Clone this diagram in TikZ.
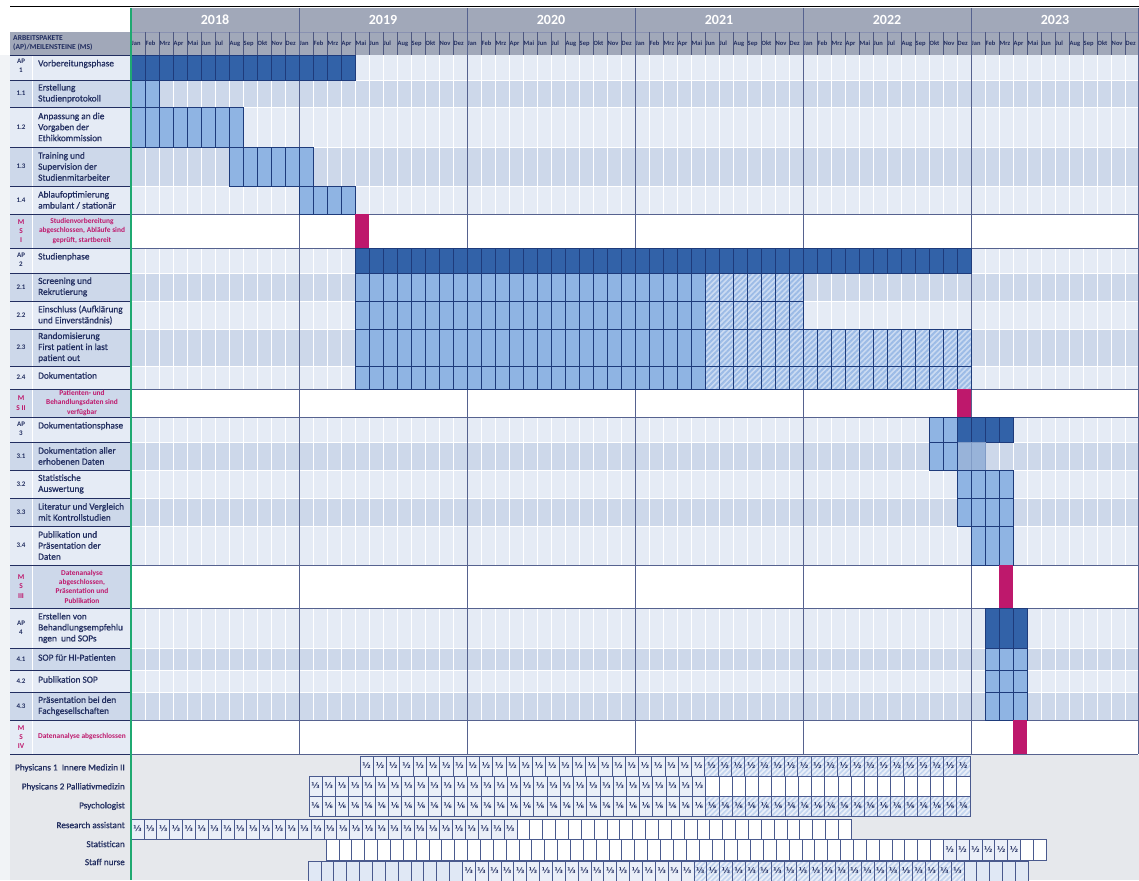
\documentclass[tikz,border=0pt]{standalone}
\usepackage{fontspec}
\setmainfont{Carlito}
\newfontfamily\semib[FakeBold=0.7]{Carlito}
\newfontfamily\fracfont{DejaVu Sans}
\usetikzlibrary{patterns.meta}
\definecolor{navy}{HTML}{222E60}
\definecolor{hdrgrey}{HTML}{A1A8B9}
\definecolor{rowL}{HTML}{E5EBF5}
\definecolor{rowD}{HTML}{CDD8EA}
\definecolor{apbar}{HTML}{3262A8}
\definecolor{subbar}{HTML}{8FB4E3}
\definecolor{hatchpale}{HTML}{CBDBF2}
\definecolor{hatchblue}{HTML}{9CBBE6}
\definecolor{barline}{HTML}{1E3B7B}
\definecolor{msmag}{HTML}{BE186C}
\definecolor{greenline}{HTML}{1FA971}
\definecolor{resbg}{HTML}{E6E8EC}
\definecolor{cellline}{HTML}{4A5A8E}
\definecolor{celltext}{HTML}{EAEFF8}
\definecolor{cellempty}{HTML}{E0E8F5}
\definecolor{yearline}{HTML}{56628F}
\definecolor{greybar}{HTML}{98B3D9}
\definecolor{resstripe}{HTML}{C2D4EF}
\definecolor{leftstrip}{HTML}{F1F3F6}
\tikzset{
  apcell/.style={fill=apbar, draw=barline, line width=0.7pt},
  subcell/.style={fill=subbar, draw=barline, line width=0.7pt},
  greycell/.style={fill=greybar, draw=greybar!80!barline, line width=0.4pt},
  hatchcell/.style={preaction={fill=hatchpale}, pattern={Lines[angle=45,distance=3.8pt,line width=1.9pt]}, pattern color=hatchblue, draw=barline, line width=0.7pt},
  mscell/.style={fill=msmag},
  numlbl/.style={inner sep=0pt, align=center, text=navy, font=\fontsize{7}{9}\selectfont\bfseries},
  mslbl/.style={inner sep=0pt, align=center, text=msmag, font=\fontsize{7.4}{9.3}\selectfont\bfseries},
  txtlbl/.style={inner sep=0pt, anchor=west, align=left, text=navy, font=\semib\fontsize{9.3}{11}\selectfont},
  monlbl/.style={inner sep=0pt, anchor=west, text=navy, font=\fontsize{6.5}{7}\selectfont\bfseries},
  yearlbl/.style={inner sep=0pt, text=white, font=\fontsize{14}{15}\selectfont\bfseries},
  reslbl/.style={inner sep=0pt, anchor=east, text=navy, font=\semib\fontsize{9.2}{10}\selectfont},
  fraclbl/.style={inner sep=0pt, text=navy, font=\fracfont\bfseries\fontsize{8}{8}\selectfont},
  rtext/.style={fill=celltext, draw=cellline, line width=0.6pt},
  rwhite/.style={fill=white, draw=cellline, line width=0.6pt},
  rempty/.style={fill=cellempty, draw=cellline, line width=0.6pt},
  rhatch/.style={preaction={fill=celltext}, pattern={Lines[angle=45,distance=3.6pt,line width=1.6pt]}, pattern color=resstripe, draw=cellline, line width=0.6pt}
}
% month cells of a Gantt bar: style, first month, last month, top, bottom
\newcommand{\gbar}[5]{\foreach \i in {#2,...,#3}{\draw[#1] ({131+14*\i},#4) rectangle ({145+14*\i},#5);}}
% resource cells with text: name, y0, y1, x0, width, from, to, style, text
\newcommand{\rcells}[9]{\foreach \k in {#6,...,#7}{\draw[#8] ({#4+#5*\k},#2) rectangle ({#4+#5*(\k+1)},#3);
  \node[fraclbl] (#1-\k) at ({#4+#5*(\k+0.5)},{(#2+#3)/2}) {#9};}}
% resource cells without text: y0, y1, x0, width, from, to, style
\newcommand{\rboxes}[7]{\foreach \k in {#5,...,#6}{\draw[#7] ({#3+#4*\k},#1) rectangle ({#3+#4*(\k+1)},#2);}}
\begin{document}
\begin{tikzpicture}[x=1pt,y=-1pt]
\useasboundingbox (0,0) rectangle (1139,880);
\fill[white] (0,0) rectangle (1139,880);
\fill[leftstrip] (0,55) rectangle (10,880);
% header
\fill[hdrgrey] (131,8) rectangle (1138,55);
\fill[hdrgrey] (10,32) rectangle (130,55);
\draw[black, line width=1.3pt] (10,6.5) -- (1139,6.5);
\draw[yearline!70, line width=0.5pt] (131,32.5) -- (1138,32.5);
\foreach \m in {1,...,71}{\draw[navy!80, line width=0.5pt] ({131+14*\m},32.5) -- ({131+14*\m},55);}
\foreach \yr [count=\k from 0] in {2018,...,2023}{\node[yearlbl] (y\yr) at ({215+168*\k},19.5) {\yr};}
\foreach \yr in {0,...,5}{\foreach \mn [count=\j from 0] in {Jan,Feb,Mrz,Apr,Mai,Jun,Jul,Aug,Sep,Okt,Nov,Dez}{\node[monlbl] (m-\yr-\j) at ({131+168*\yr+14*\j+0.5},43.5) {\mn};}}
\node[inner sep=0pt, anchor=west, align=left, text=navy, font=\fontsize{7.6}{9}\selectfont\bfseries] (hdr) at (13,43.5) {ARBEITSPAKETE\\(AP)/MEILENSTEINE (MS)};
% row backgrounds
\foreach \t/\b/\c in {55/80/rowL,80/107/rowD,107/147/rowL,147/186/rowD,186/214/rowL,214/248/rowD,248/273/rowL,273/301/rowD,301/329/rowL,329/366/rowD,366/389/rowL,389/417/rowD,417/442/rowL,442/470/rowD,470/498/rowL,498/526/rowD,526/565/rowL,565/608/rowD,608/648/rowL,648/670/rowD,670/692/rowL,692/720/rowD,720/754/rowL}{\fill[\c] (10,\t) rectangle (1138,\b);}
\foreach \m in {1,...,71}{\draw[white, line width=0.9pt] ({131+14*\m},55) -- ({131+14*\m},754);}
\foreach \y in {80,107,147,186,273,301,329,366,442,470,498,526,648,670,692}{\draw[white, line width=0.9pt] (131,\y) -- (1138,\y);}
\draw[white, line width=0.8pt] (32,55) -- (32,754);
% milestone rows
\foreach \t/\b in {214/248,389/417,565/608,720/754}{\fill[white] (131,\t) rectangle (1138,\b);
  \draw[yearline, line width=0.9pt] (131,\t) -- (1138,\t); \draw[yearline, line width=0.9pt] (131,\b) -- (1138,\b);}
% year dividers
\foreach \x in {299,467,635,803,971}{\draw[yearline, line width=1pt] (\x,8) -- (\x,754);}
\draw[yearline, line width=1pt] (1138,8) -- (1138,754);
% left row borders
\foreach \y in {55,80,107,147,186,214,248,273,301,329,366,389,417,442,470,498,526,565,608,648,670,692,720,754}{\draw[navy, line width=0.9pt] (10,\y) -- (130,\y);}
% bars AP1
\gbar{apcell}{0}{15}{55}{80}
\gbar{subcell}{0}{1}{80}{107}
\gbar{subcell}{0}{7}{107}{147}
\gbar{subcell}{7}{12}{147}{186}
\gbar{subcell}{12}{15}{186}{214}
\fill[mscell] ({131+14*16},214) rectangle ({145+14*16},248);
% AP2
\gbar{apcell}{16}{59}{248}{273}
\gbar{subcell}{16}{40}{273}{301}
\gbar{hatchcell}{41}{47}{273}{301}
\gbar{subcell}{16}{40}{301}{329}
\gbar{hatchcell}{41}{47}{301}{329}
\gbar{subcell}{16}{40}{329}{366}
\gbar{hatchcell}{41}{59}{329}{366}
\gbar{subcell}{16}{40}{366}{389}
\gbar{hatchcell}{41}{59}{366}{389}
\fill[mscell] ({131+14*59},389) rectangle ({145+14*59},417);
% AP3
\gbar{subcell}{57}{58}{417}{442}
\gbar{apcell}{59}{62}{417}{442}
\gbar{greycell}{59}{60}{442}{470}
\gbar{subcell}{57}{58}{442}{470}
\gbar{subcell}{59}{62}{470}{498}
\gbar{subcell}{59}{62}{498}{526}
\gbar{subcell}{60}{62}{526}{565}
\fill[mscell] ({131+14*62},565) rectangle ({145+14*62},608);
% AP4
\gbar{apcell}{61}{63}{608}{648}
\gbar{subcell}{61}{63}{648}{670}
\gbar{subcell}{61}{63}{670}{692}
\gbar{subcell}{61}{63}{692}{720}
\fill[mscell] ({131+14*63},720) rectangle ({145+14*63},754);
% left labels
\node[numlbl] (n-ap1) at (21,66) {AP\\1};
\node[txtlbl] (t-ap1) at (38,64) {Vorbereitungsphase};
\node[numlbl] (n-11) at (21,93.5) {1.1};
\node[txtlbl] (t-11) at (38,93.5) {Erstellung\\Studienprotokoll};
\node[numlbl] (n-12) at (21,127) {1.2};
\node[txtlbl] (t-12) at (38,127) {Anpassung an die\\Vorgaben der\\Ethikkommission};
\node[numlbl] (n-13) at (21,166.5) {1.3};
\node[txtlbl] (t-13) at (38,166.5) {Training und\\Supervision der\\Studienmitarbeiter};
\node[numlbl] (n-14) at (21,200) {1.4};
\node[txtlbl] (t-14) at (38,200) {Ablaufoptimierung\\ambulant / stationär};
\node[mslbl] (n-ms1) at (21,231) {M\\S\\I};
\node[mslbl] (t-ms1) at (82,231) {Studienvorbereitung\\abgeschlossen, Abläufe sind\\geprüft, startbereit};
\node[numlbl] (n-ap2) at (21,259.5) {AP\\2};
\node[txtlbl] (t-ap2) at (38,257) {Studienphase};
\node[numlbl] (n-21) at (21,287) {2.1};
\node[txtlbl] (t-21) at (38,287) {Screening und\\Rekrutierung};
\node[numlbl] (n-22) at (21,315) {2.2};
\node[txtlbl] (t-22) at (38,315) {Einschluss (Aufklärung\\und Einverständnis)};
\node[numlbl] (n-23) at (21,347.5) {2.3};
\node[txtlbl] (t-23) at (38,347.5) {Randomisierung\\First patient in last\\patient out};
\node[numlbl] (n-24) at (21,377.5) {2.4};
\node[txtlbl] (t-24) at (38,375.5) {Dokumentation};
\node[mslbl] (n-ms2) at (21,403) {M\\S II};
\node[mslbl] (t-ms2) at (82,403) {Patienten- und\\Behandlungsdaten sind\\verfügbar};
\node[numlbl] (n-ap3) at (21,429) {AP\\3};
\node[txtlbl] (t-ap3) at (38,426) {Dokumentationsphase};
\node[numlbl] (n-31) at (21,456) {3.1};
\node[txtlbl] (t-31) at (38,456) {Dokumentation aller\\erhobenen Daten};
\node[numlbl] (n-32) at (21,484) {3.2};
\node[txtlbl] (t-32) at (38,484) {Statistische\\Auswertung};
\node[numlbl] (n-33) at (21,512) {3.3};
\node[txtlbl] (t-33) at (38,512) {Literatur und Vergleich\\mit Kontrollstudien};
\node[numlbl] (n-34) at (21,545.5) {3.4};
\node[txtlbl] (t-34) at (38,545.5) {Publikation und\\Präsentation der\\Daten};
\node[mslbl] (n-ms3) at (21,586.5) {M\\S\\III};
\node[mslbl] (t-ms3) at (82,586.5) {Datenanalyse\\abgeschlossen,\\Präsentation und\\Publikation};
\node[numlbl] (n-ap4) at (21,628) {AP\\4};
\node[txtlbl] (t-ap4) at (38,628) {Erstellen von\\Behandlungsempfehlu\\ngen\ \ und SOPs};
\node[numlbl] (n-41) at (21,659) {4.1};
\node[txtlbl] (t-41) at (38,657.5) {SOP für HI-Patienten};
\node[numlbl] (n-42) at (21,681) {4.2};
\node[txtlbl] (t-42) at (38,679.5) {Publikation SOP};
\node[numlbl] (n-43) at (21,706) {4.3};
\node[txtlbl] (t-43) at (38,706) {Präsentation bei den\\Fachgesellschaften};
\node[mslbl] (n-ms4) at (21,737) {M\\S\\IV};
\node[mslbl] (t-ms4) at (82,737) {Datenanalyse abgeschlossen};
% resources
\fill[resbg] (10,755) rectangle (1139,880);
\node[reslbl] (r-p1) at (125,768) {Physicans 1\ \ Innere Medizin II};
\node[reslbl] (r-p2) at (125,787) {Physicans 2 Palliativmedizin};
\node[reslbl] (r-ps) at (125,806) {Psychologist};
\node[reslbl] (r-ra) at (125,825) {Research assistant};
\node[reslbl] (r-st) at (125,844) {Statistican};
\node[reslbl] (r-sn) at (125,862) {Staff nurse};
\rcells{p1}{756}{776}{360}{13.26}{0}{25}{rtext}{½}
\rcells{p1h}{756}{776}{360}{13.26}{26}{45}{rhatch}{½}
\rcells{p2}{776}{796}{309}{13.22}{0}{29}{rtext}{⅓}
\rboxes{776}{796}{309}{13.22}{30}{49}{rwhite}
\rcells{ps}{796}{816}{309}{13.22}{0}{29}{rtext}{⅙}
\rcells{psh}{796}{816}{309}{13.22}{30}{49}{rhatch}{⅙}
\rcells{ra}{819}{839}{131}{12.86}{0}{29}{rtext}{⅓}
\rboxes{819}{839}{131}{12.86}{30}{55}{rwhite}
\rboxes{839}{860}{326}{12.86}{0}{47}{rwhite}
\rcells{st}{839}{860}{326}{12.86}{48}{53}{rtext}{½}
\rboxes{839}{860}{326}{12.86}{54}{55}{rwhite}
\rboxes{861}{881}{308}{12.86}{0}{11}{rempty}
\rcells{sn}{861}{881}{308}{12.86}{12}{29}{rtext}{⅓}
\rcells{snh}{861}{881}{308}{12.86}{30}{50}{rhatch}{⅓}
\rboxes{861}{881}{308}{12.86}{51}{55}{rempty}
% green line
\draw[greenline, line width=2pt] (130.5,8) -- (130.5,880);
\end{tikzpicture}
\end{document}
